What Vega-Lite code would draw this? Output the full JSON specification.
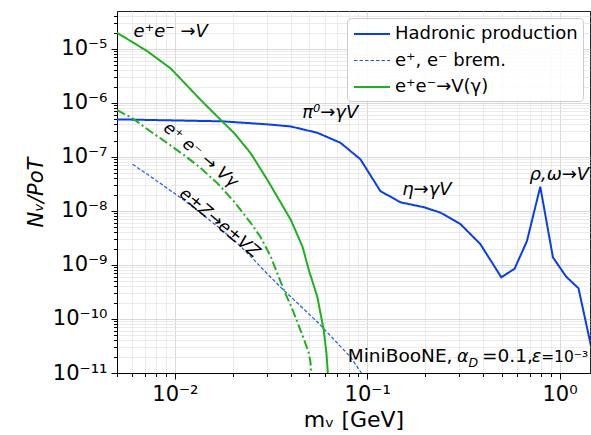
{
  "$schema": "https://vega.github.io/schema/vega-lite/v6.json",
  "width": 473,
  "height": 362,
  "autosize": {"type": "none"},
  "padding": {"left": 117, "top": 11, "right": 1, "bottom": 62},
  "config": {
    "font": "DejaVu Sans",
    "view": {"stroke": "#222222", "strokeWidth": 1},
    "axis": {
      "domainColor": "black",
      "tickColor": "black",
      "labelColor": "black",
      "titleColor": "black",
      "labelFont": "DejaVu Sans",
      "titleFont": "DejaVu Sans",
      "labelFontSize": 21,
      "titleFontSize": 21,
      "titleFontWeight": "normal",
      "labelOverlap": false,
      "labelBound": false,
      "grid": true,
      "gridWidth": 0.8
    }
  },
  "datasets": {
    "curves": [
      {"series": "Hadronic production", "m": 0.005, "n": 4.94e-7},
      {"series": "Hadronic production", "m": 0.0177, "n": 4.54e-7},
      {"series": "Hadronic production", "m": 0.0303, "n": 3.99e-7},
      {"series": "Hadronic production", "m": 0.0399, "n": 3.66e-7},
      {"series": "Hadronic production", "m": 0.055, "n": 2.79e-7},
      {"series": "Hadronic production", "m": 0.0726, "n": 1.82e-7},
      {"series": "Hadronic production", "m": 0.0922, "n": 9.0e-8},
      {"series": "Hadronic production", "m": 0.117, "n": 2.33e-8},
      {"series": "Hadronic production", "m": 0.149, "n": 1.44e-8},
      {"series": "Hadronic production", "m": 0.197, "n": 1.17e-8},
      {"series": "Hadronic production", "m": 0.24, "n": 9.3e-9},
      {"series": "Hadronic production", "m": 0.305, "n": 5.71e-9},
      {"series": "Hadronic production", "m": 0.387, "n": 2.44e-9},
      {"series": "Hadronic production", "m": 0.498, "n": 5.9e-10},
      {"series": "Hadronic production", "m": 0.584, "n": 8.51e-10},
      {"series": "Hadronic production", "m": 0.677, "n": 2.77e-9},
      {"series": "Hadronic production", "m": 0.794, "n": 2.8e-8},
      {"series": "Hadronic production", "m": 0.924, "n": 1.38e-9},
      {"series": "Hadronic production", "m": 1.083, "n": 6.05e-10},
      {"series": "Hadronic production", "m": 1.255, "n": 3.69e-10},
      {"series": "Hadronic production", "m": 1.46, "n": 3.07e-11},
      {"series": "e⁺, e⁻ brem.", "m": 0.00603, "n": 7.26e-8},
      {"series": "e⁺, e⁻ brem.", "m": 0.00748, "n": 4.32e-8},
      {"series": "e⁺, e⁻ brem.", "m": 0.00917, "n": 2.59e-8},
      {"series": "e⁺, e⁻ brem.", "m": 0.01123, "n": 1.55e-8},
      {"series": "e⁺, e⁻ brem.", "m": 0.0136, "n": 9.12e-9},
      {"series": "e⁺, e⁻ brem.", "m": 0.01667, "n": 5.13e-9},
      {"series": "e⁺, e⁻ brem.", "m": 0.0204, "n": 2.83e-9},
      {"series": "e⁺, e⁻ brem.", "m": 0.0247, "n": 1.46e-9},
      {"series": "e⁺, e⁻ brem.", "m": 0.0303, "n": 6.79e-10},
      {"series": "e⁺, e⁻ brem.", "m": 0.0367, "n": 3.43e-10},
      {"series": "e⁺, e⁻ brem.", "m": 0.045, "n": 1.74e-10},
      {"series": "e⁺, e⁻ brem.", "m": 0.0551, "n": 8.78e-11},
      {"series": "e⁺, e⁻ brem.", "m": 0.0667, "n": 4.26e-11},
      {"series": "e⁺, e⁻ brem.", "m": 0.0818, "n": 1.98e-11},
      {"series": "e⁺, e⁻ brem.", "m": 0.0933, "n": 1e-11},
      {"series": "e⁺e⁻→V(γ)", "m": 0.005, "n": 1.98e-5},
      {"series": "e⁺e⁻→V(γ)", "m": 0.00713, "n": 9.18e-6},
      {"series": "e⁺e⁻→V(γ)", "m": 0.0095, "n": 4.34e-6},
      {"series": "e⁺e⁻→V(γ)", "m": 0.01365, "n": 1.12e-6},
      {"series": "e⁺e⁻→V(γ)", "m": 0.01733, "n": 4.8e-7},
      {"series": "e⁺e⁻→V(γ)", "m": 0.0204, "n": 2.72e-7},
      {"series": "e⁺e⁻→V(γ)", "m": 0.0248, "n": 1.16e-7},
      {"series": "e⁺e⁻→V(γ)", "m": 0.0303, "n": 3.72e-8},
      {"series": "e⁺e⁻→V(γ)", "m": 0.0401, "n": 6.78e-9},
      {"series": "e⁺e⁻→V(γ)", "m": 0.0461, "n": 2.17e-9},
      {"series": "e⁺e⁻→V(γ)", "m": 0.0497, "n": 8.05e-10},
      {"series": "e⁺e⁻→V(γ)", "m": 0.055, "n": 2.58e-10},
      {"series": "e⁺e⁻→V(γ)", "m": 0.0594, "n": 6.25e-11},
      {"series": "e⁺e⁻→V(γ)", "m": 0.0614, "n": 2.31e-11},
      {"series": "e⁺e⁻→V(γ)", "m": 0.0624, "n": 1e-11},
      {"series": "e⁺e⁻→Vγ", "m": 0.005, "n": 7.35e-7},
      {"series": "e⁺e⁻→Vγ", "m": 0.00603, "n": 5.15e-7},
      {"series": "e⁺e⁻→Vγ", "m": 0.00748, "n": 2.94e-7},
      {"series": "e⁺e⁻→Vγ", "m": 0.00917, "n": 1.78e-7},
      {"series": "e⁺e⁻→Vγ", "m": 0.01123, "n": 1.06e-7},
      {"series": "e⁺e⁻→Vγ", "m": 0.0136, "n": 6.21e-8},
      {"series": "e⁺e⁻→Vγ", "m": 0.01667, "n": 3.23e-8},
      {"series": "e⁺e⁻→Vγ", "m": 0.0204, "n": 1.46e-8},
      {"series": "e⁺e⁻→Vγ", "m": 0.0247, "n": 6.09e-9},
      {"series": "e⁺e⁻→Vγ", "m": 0.02787, "n": 3.28e-9},
      {"series": "e⁺e⁻→Vγ", "m": 0.03142, "n": 1.46e-9},
      {"series": "e⁺e⁻→Vγ", "m": 0.0367, "n": 3.58e-10},
      {"series": "e⁺e⁻→Vγ", "m": 0.04136, "n": 1.345e-10},
      {"series": "e⁺e⁻→Vγ", "m": 0.04662, "n": 4.44e-11},
      {"series": "e⁺e⁻→Vγ", "m": 0.04949, "n": 2.45e-11},
      {"series": "e⁺e⁻→Vγ", "m": 0.0507, "n": 1.6e-11},
      {"series": "e⁺e⁻→Vγ", "m": 0.0511, "n": 1e-11}
    ],
    "processLabels": [
      {"m": 0.0061, "n": 2.04e-5, "text": "e⁺e⁻ →V"},
      {"m": 0.0459, "n": 6.46e-7, "text": "π⁰→γV"},
      {"m": 0.152, "n": 2.43e-8, "text": "η→γV"},
      {"m": 0.698, "n": 4.6e-8, "text": "ρ,ω→V"}
    ],
    "slopeLabels": [
      {"m": 0.0136, "n": 1.08e-7, "text": "e⁺ e⁻ → Vγ"},
      {"m": 0.01706, "n": 5.96e-9, "text": "e±Z→e±VZ"}
    ],
    "noteUpright": [
      {"m": 0.0792, "n": 1.62e-11, "text": "MiniBooNE,"},
      {"m": 0.3953, "n": 1.62e-11, "text": "=0.1,"}
    ],
    "noteEnd": [
      {"m": 1.41, "n": 1.62e-11, "text": "=10⁻³"}
    ],
    "noteItalic": [
      {"m": 0.293, "n": 1.62e-11, "text": "α"},
      {"m": 0.717, "n": 1.62e-11, "text": "ε"}
    ],
    "noteSub": [
      {"m": 0.3367, "n": 1.31e-11, "text": "D"}
    ]
  },
  "encoding": {
    "x": {
      "field": "m",
      "type": "quantitative",
      "scale": {"type": "log", "domain": [0.005, 1.44], "nice": false},
      "axis": {
        "title": "mᵥ  [GeV]",
        "titleFontSize": 22,
        "titlePadding": 5,
        "labelPadding": 4,
        "values": [0.005, 0.006, 0.007, 0.008, 0.009, 0.01, 0.02, 0.03, 0.04, 0.05, 0.06, 0.07, 0.08, 0.09, 0.1, 0.2, 0.3, 0.4, 0.5, 0.6, 0.7, 0.8, 0.9, 1],
        "labelExpr": "abs(log(datum.value)/LN10 - round(log(datum.value)/LN10)) < 0.01 ? '10' + ['⁻²','⁻¹','⁰'][round(log(datum.value)/LN10) + 2] : ''",
        "tickSize": {"condition": {"test": "abs(log(datum.value)/LN10 - round(log(datum.value)/LN10)) < 0.01", "value": 6}, "value": 3.5},
        "gridColor": {"condition": {"test": "abs(log(datum.value)/LN10 - round(log(datum.value)/LN10)) < 0.01", "value": "#cfcfcf"}, "value": "#e6e6e6"}
      }
    },
    "y": {
      "field": "n",
      "type": "quantitative",
      "scale": {"type": "log", "domain": [1e-11, 5e-5], "nice": false},
      "axis": {
        "title": "Nᵥ/PoT",
        "titleFontStyle": "italic",
        "titlePadding": 6,
        "labelPadding": 4,
        "values": [1e-11, 2e-11, 3e-11, 4e-11, 5e-11, 6e-11, 7e-11, 8e-11, 9e-11, 1e-10, 2e-10, 3e-10, 4e-10, 5e-10, 6e-10, 7e-10, 8e-10, 9e-10, 1e-9, 2e-9, 3e-9, 4e-9, 5e-9, 6e-9, 7e-9, 8e-9, 9e-9, 1e-8, 2e-8, 3e-8, 4e-8, 5e-8, 6e-8, 7e-8, 8e-8, 9e-8, 1e-7, 2e-7, 3e-7, 4e-7, 5e-7, 6e-7, 7e-7, 8e-7, 9e-7, 1e-6, 2e-6, 3e-6, 4e-6, 5e-6, 6e-6, 7e-6, 8e-6, 9e-6, 1e-5, 2e-5, 3e-5, 4e-5],
        "labelExpr": "abs(log(datum.value)/LN10 - round(log(datum.value)/LN10)) < 0.01 ? '10' + ['⁻¹¹','⁻¹⁰','⁻⁹','⁻⁸','⁻⁷','⁻⁶','⁻⁵'][round(log(datum.value)/LN10) + 11] : ''",
        "tickSize": {"condition": {"test": "abs(log(datum.value)/LN10 - round(log(datum.value)/LN10)) < 0.01", "value": 6}, "value": 3.5},
        "gridColor": {"condition": {"test": "abs(log(datum.value)/LN10 - round(log(datum.value)/LN10)) < 0.01", "value": "#cfcfcf"}, "value": "#e6e6e6"}
      }
    }
  },
  "layer": [
    {
      "data": {"name": "curves"},
      "transform": [{"filter": "datum.series != 'e⁺e⁻→Vγ'"}],
      "mark": {"type": "line", "clip": true},
      "encoding": {
        "color": {
          "field": "series",
          "type": "nominal",
          "scale": {
            "domain": ["Hadronic production", "e⁺, e⁻ brem.", "e⁺e⁻→V(γ)"],
            "range": ["#0a3ee6", "#1f55f0", "#1fb01f"]
          },
          "legend": {
            "title": null,
            "orient": "top-right",
            "offset": 7,
            "padding": 5,
            "fillColor": "rgba(255,255,255,0.85)",
            "strokeColor": "#cccccc",
            "cornerRadius": 4,
            "labelFont": "DejaVu Sans",
            "labelFontSize": 18,
            "labelColor": "black",
            "labelLimit": 400,
            "labelOffset": 12,
            "rowPadding": 6.5,
            "symbolType": "M-1.8,0H1.8",
            "symbolSize": 400,
            "symbolOffset": 9
          }
        },
        "strokeDash": {
          "field": "series",
          "type": "nominal",
          "scale": {
            "domain": ["Hadronic production", "e⁺, e⁻ brem.", "e⁺e⁻→V(γ)"],
            "range": [[1, 0], [3.5, 2], [1, 0]]
          },
          "legend": {"title": null}
        },
        "strokeWidth": {
          "field": "series",
          "type": "nominal",
          "scale": {
            "type": "ordinal",
            "domain": ["Hadronic production", "e⁺, e⁻ brem.", "e⁺e⁻→V(γ)"],
            "range": [2, 1.2, 2]
          },
          "legend": {"title": null}
        }
      }
    },
    {
      "data": {"name": "curves"},
      "transform": [{"filter": "datum.series == 'e⁺e⁻→Vγ'"}],
      "mark": {"type": "line", "clip": true, "color": "#1fb01f", "strokeWidth": 2, "strokeDash": [9, 3, 2, 3]},
      "encoding": {}
    },
    {
      "data": {"name": "processLabels"},
      "mark": {"type": "text", "align": "left", "baseline": "middle", "fontSize": 18, "fontStyle": "italic", "color": "black"},
      "encoding": {"text": {"field": "text"}}
    },
    {
      "data": {"name": "slopeLabels"},
      "mark": {"type": "text", "align": "center", "baseline": "middle", "angle": 40, "fontSize": 17, "fontStyle": "italic", "color": "black"},
      "encoding": {"text": {"field": "text"}}
    },
    {
      "data": {"name": "noteUpright"},
      "mark": {"type": "text", "align": "left", "baseline": "alphabetic", "fontSize": 18.5, "color": "black"},
      "encoding": {"text": {"field": "text"}}
    },
    {
      "data": {"name": "noteEnd"},
      "mark": {"type": "text", "align": "right", "baseline": "alphabetic", "fontSize": 15.5, "color": "black"},
      "encoding": {"text": {"field": "text"}}
    },
    {
      "data": {"name": "noteItalic"},
      "mark": {"type": "text", "align": "left", "baseline": "alphabetic", "fontSize": 17.5, "fontStyle": "italic", "color": "black"},
      "encoding": {"text": {"field": "text"}}
    },
    {
      "data": {"name": "noteSub"},
      "mark": {"type": "text", "align": "left", "baseline": "alphabetic", "fontSize": 12.5, "fontStyle": "italic", "color": "black"},
      "encoding": {"text": {"field": "text"}}
    }
  ]
}
